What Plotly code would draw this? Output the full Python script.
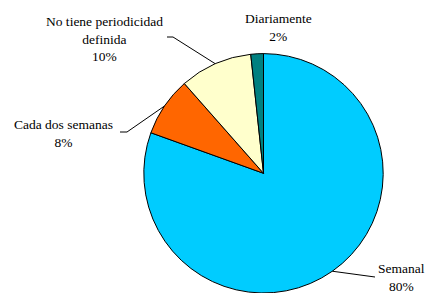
import math
import plotly.graph_objects as go

# Data
categories = ["Semanal", "Cada dos semanas", "No tiene periodicidad definida", "Diariamente"]
label_lines = [["Semanal"], ["Cada dos semanas"], ["No tiene periodicidad", "definida"], ["Diariamente"]]
values = [80.5, 8.0, 9.8, 1.7]
colors = ["#00CCFF", "#FF6600", "#FFFFCC", "#008080"]

W, H = 426, 293
cx, cy, R = 263.5, 173.3, 119.7

fig = go.Figure()
fig.add_trace(go.Pie(
    labels=categories, values=values, sort=False, direction="clockwise", rotation=0,
    marker=dict(colors=colors, line=dict(color="#000000", width=1)),
    textinfo="none", hoverinfo="label+percent", showlegend=False,
    domain=dict(x=[(cx - R) / W, (cx + R) / W], y=[max(0, 1 - (cy + R) / H), 1 - (cy - R) / H]),
))

def px(x):
    return x / W

def py(y):
    return 1 - y / H

# label placement (layout): text center, leader end points
label_pos = [
    dict(x=401.5, y=277.5, line=[(375, 277)]),
    dict(x=63.5, y=133, line=[(127, 132), (120, 132)]),
    dict(x=104.5, y=38.5, line=[(173, 37), (167, 37)]),
    dict(x=278, y=27, line=None),
]

total = sum(values)
cum = 0.0
font = dict(family="Times New Roman, Liberation Serif, Tinos, serif", size=13.5, color="#000000")
for i, v in enumerate(values):
    mid = (cum + v / 2) / total * 360.0
    cum += v
    pct = round(v / total * 100)
    ex = cx + R * math.sin(math.radians(mid))
    ey = cy - R * math.cos(math.radians(mid))
    lp = label_pos[i]
    if lp["line"]:
        pts = [(ex, ey)] + lp["line"]
        path = "M " + " L ".join(f"{px(a)},{py(b)}" for a, b in pts)
        fig.add_shape(type="path", path=path, xref="paper", yref="paper",
                      line=dict(color="#000000", width=1))
    text = "<br>".join(label_lines[i] + [f"{pct}%"])
    fig.add_annotation(x=px(lp["x"]), y=py(lp["y"]), xref="paper", yref="paper",
                       text=text, showarrow=False, font=font, align="center",
                       xanchor="center", yanchor="middle")

fig.update_layout(width=W, height=H, margin=dict(l=0, r=0, t=0, b=0),
                  font=font, paper_bgcolor="#FFFFFF", plot_bgcolor="#FFFFFF")
fig.write_html("out.html", config={"displayModeBar": False},
               post_script="document.body.style.margin='0';document.body.style.overflow='hidden';")
